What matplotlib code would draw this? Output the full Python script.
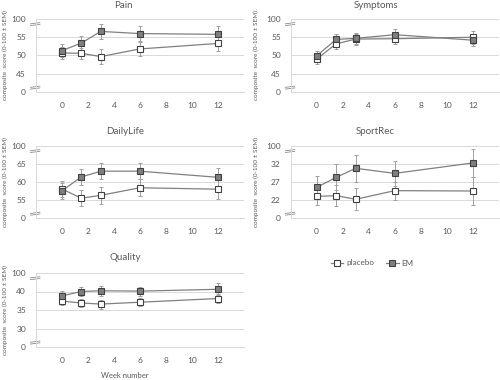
import matplotlib
matplotlib.use("Agg")
import matplotlib.pyplot as plt
from matplotlib.lines import Line2D

plt.rcParams['font.family'] = ['Lato', 'DejaVu Sans']

weeks = [0, 1.5, 3, 6, 12]
xticks = [0, 2, 4, 6, 8, 10, 12]

titles = ["Pain", "Symptoms", "DailyLife", "SportRec", "Quality"]
# middle tick values (broken axis: 0 ... a, b, c ... 100)
mid_ticks = {
    "Pain": [45, 50, 55],
    "Symptoms": [45, 50, 55],
    "DailyLife": [55, 60, 65],
    "SportRec": [22, 27, 32],
    "Quality": [30, 35, 40],
}
placebo = {
    "Pain": [50.7, 50.6, 49.7, 51.8, 53.3],
    "Symptoms": [49.0, 53.2, 54.5, 54.6, 55.0],
    "DailyLife": [58.1, 55.5, 56.3, 58.4, 58.0],
    "SportRec": [23.0, 23.2, 22.2, 24.6, 24.5],
    "Quality": [37.4, 36.9, 36.6, 37.1, 38.1],
}
placebo_sem = {
    "Pain": [1.7, 1.5, 2.0, 1.9, 2.1],
    "Symptoms": [1.3, 1.5, 1.5, 1.5, 1.8],
    "DailyLife": [2.2, 2.2, 2.4, 2.3, 2.7],
    "SportRec": [2.5, 3.0, 3.0, 2.5, 4.0],
    "Quality": [1.1, 1.2, 1.2, 1.1, 1.2],
}
em = {
    "Pain": [51.3, 53.4, 56.6, 56.0, 55.8],
    "Symptoms": [49.9, 54.4, 54.7, 55.7, 54.2],
    "DailyLife": [57.5, 61.4, 63.0, 63.0, 61.3],
    "SportRec": [25.5, 28.3, 30.8, 29.4, 32.3],
    "Quality": [38.8, 40.0, 40.2, 40.1, 40.6],
}
em_sem = {
    "Pain": [1.8, 1.9, 2.1, 2.0, 2.3],
    "Symptoms": [1.3, 1.6, 1.5, 1.5, 1.6],
    "DailyLife": [2.3, 2.2, 2.2, 2.2, 2.7],
    "SportRec": [3.3, 3.6, 3.8, 3.5, 3.8],
    "Quality": [1.4, 1.2, 1.4, 1.2, 1.6],
}
series_labels = ["placebo", "EM"]

TXT = "#595959"
GRID = "#d9d9d9"
LINE = "#808080"
EDGE = "#404040"
EMFILL = "#7f7f7f"
ERR = "#a0a0a0"

W, H = 500, 380
fig = plt.figure(figsize=(5, 3.8), dpi=100)

# panel rectangles in pixels: (left, right, top, bottom)
rects = {
    "Pain": (35.7, 244, 19, 92),
    "Symptoms": (290.6, 499, 19, 92),
    "DailyLife": (35.7, 244, 146, 218),
    "SportRec": (290.6, 499, 146, 218),
    "Quality": (35.7, 244, 273, 347),
}
title_pos = {
    "Pain": (123, 6), "Symptoms": (376, 6),
    "DailyLife": (125, 131), "SportRec": (375, 131),
    "Quality": (125, 258),
}
ylab_x = {"Pain": 5, "Symptoms": 256, "DailyLife": 5, "SportRec": 256, "Quality": 5}

for name in titles:
    l, r, t, b = rects[name]
    ax = fig.add_axes([l / W, 1 - b / H, (r - l) / W, (b - t) / H])
    a, m, c = mid_ticks[name]
    step = m - a
    ylo, yhi = a - step, c + step
    ax.set_ylim(ylo, yhi)
    ax.set_xlim(-2, 14)
    ax.set_yticks([ylo, a, m, c, yhi])
    ax.set_yticklabels(["0", str(a), str(m), str(c), "100"])
    ax.set_xticks(xticks)
    ax.set_xticklabels([str(v) for v in xticks])
    ax.tick_params(axis='both', length=0, labelsize=6, labelcolor=TXT)
    ax.tick_params(axis='y', pad=7)
    ax.tick_params(axis='x', pad=7)
    ax.grid(axis='y', color=GRID, linewidth=0.7)
    ax.set_axisbelow(True)
    for s in ['top', 'right']:
        ax.spines[s].set_visible(False)
    ax.spines['left'].set_color(GRID)
    ax.spines['left'].set_linewidth(0.7)
    ax.spines['bottom'].set_color(GRID)
    ax.spines['bottom'].set_linewidth(0.7)

    ax.errorbar(weeks, placebo[name], yerr=placebo_sem[name], fmt='none',
                ecolor=ERR, elinewidth=0.7, capsize=1.5, capthick=0.7, zorder=2)
    ax.errorbar(weeks, em[name], yerr=em_sem[name], fmt='none',
                ecolor=ERR, elinewidth=0.7, capsize=1.5, capthick=0.7, zorder=2)
    ax.plot(weeks, placebo[name], color=LINE, linewidth=0.9, marker='s',
            markersize=4.3, markerfacecolor='white', markeredgecolor=EDGE,
            markeredgewidth=0.8, zorder=3)
    ax.plot(weeks, em[name], color=LINE, linewidth=0.9, marker='s',
            markersize=4.3, markerfacecolor=EMFILL, markeredgecolor=EDGE,
            markeredgewidth=0.8, zorder=3)

    # axis break marks near top and bottom
    for yf in (0.93, 0.06):
        for dy in (-0.012, 0.012):
            ax.plot([-0.025, 0.02], [yf + dy - 0.008, yf + dy + 0.008],
                    transform=ax.transAxes, color="#8c8c8c", linewidth=0.6,
                    clip_on=False)

    tx, ty = title_pos[name]
    fig.text(tx / W, 1 - ty / H, name, ha='center', va='center',
             fontsize=7, color=TXT)
    fig.text(ylab_x[name] / W, 1 - ((t + b) / 2) / H,
             "composite  score (0-100 ± SEM)", rotation=90, ha='center',
             va='center', fontsize=4.6, color=TXT)

fig.text(125 / W, 1 - 376 / H, "Week number", ha='center', va='center',
         fontsize=5.5, color=TXT)

handles = [
    Line2D([0], [0], color=LINE, linewidth=0.9, marker='s', markersize=4.3,
           markerfacecolor='white', markeredgecolor=EDGE, markeredgewidth=0.8),
    Line2D([0], [0], color=LINE, linewidth=0.9, marker='s', markersize=4.3,
           markerfacecolor=EMFILL, markeredgecolor=EDGE, markeredgewidth=0.8),
]
leg = fig.legend(handles, series_labels, loc='center',
                 bbox_to_anchor=(372 / W, 1 - 263 / H), ncol=2, frameon=False,
                 fontsize=5.8, handlelength=1.6, handletextpad=0.3,
                 columnspacing=1.5)
for txt in leg.get_texts():
    txt.set_color(TXT)

fig.savefig("out.png", dpi=100)
